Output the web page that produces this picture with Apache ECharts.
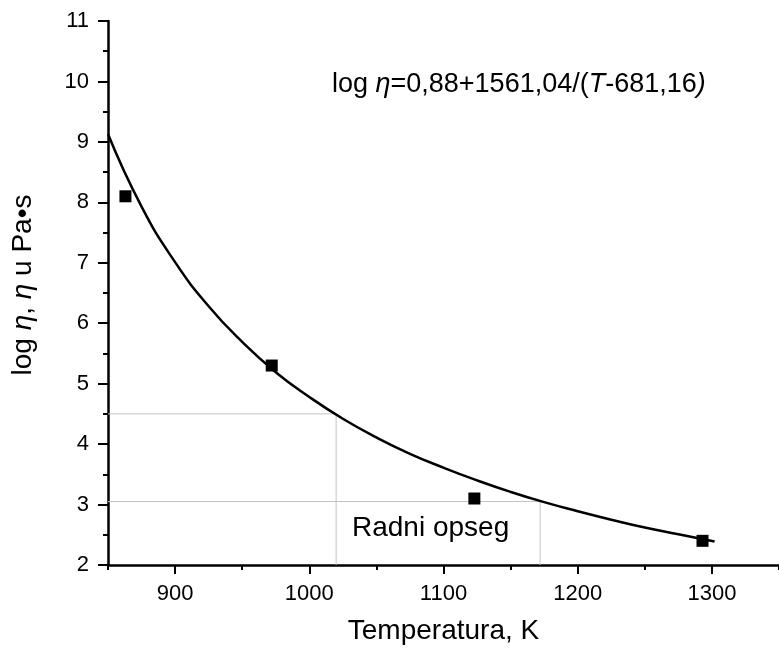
<!DOCTYPE html>
<html>
<head>
<meta charset="utf-8">
<script src="https://cdn.jsdelivr.net/npm/echarts@6/dist/echarts.min.js"></script>
<style>
  html, body { margin: 0; padding: 0; background: #fff; }
  #chart { width: 779px; height: 650px; }
</style>
</head>
<body>
<div id="chart"></div>
<script>
// izmjerene tocke (T u K, log eta)
const measuredT = [863, 972, 1123, 1293];
const measuredLog = [8.1, 5.3, 3.1, 2.4];

// kriva ocitana sa slike
const curveT = [850, 875, 900, 925, 950, 975, 1000, 1025, 1050, 1075, 1100, 1125, 1150, 1175, 1200, 1225, 1250, 1275, 1302];
const curveLog = [9.13, 7.93, 7.01, 6.28, 5.69, 5.19, 4.78, 4.42, 4.11, 3.84, 3.61, 3.40, 3.21, 3.04, 2.89, 2.75, 2.62, 2.51, 2.39];

// radni opseg (granice)
const rangeLow = [[850, 4.5], [1020, 4.5], [1020, 2]];
const rangeHigh = [[850, 3.05], [1172, 3.05], [1172, 2]];

const xMajor = [900, 1000, 1100, 1200, 1300];
const xMinor = [850, 950, 1050, 1150, 1250, 1350];

const font = 'Liberation Sans, Arial, sans-serif';
const chart = echarts.init(document.getElementById('chart'));

const zip = (xs, ys) => xs.map((x, i) => [x, ys[i]]);

chart.setOption({
  animation: false,
  grid: { left: 108, right: -2, top: 21, bottom: 84 },
  xAxis: [
    {
      type: 'value', min: 850, max: 1350,
      name: 'Temperatura, K', nameLocation: 'middle', nameGap: 52,
      nameTextStyle: { fontFamily: font, fontSize: 28, color: '#000' },
      axisLine: { show: true, onZero: false, lineStyle: { color: '#000', width: 2.5 } },
      axisTick: { show: true, customValues: xMajor, length: 9, lineStyle: { color: '#000', width: 2 } },
      axisLabel: {
        customValues: xMajor, margin: 18, fontFamily: font, fontSize: 22, color: '#000',
        formatter: v => String(v)
      },
      splitLine: { show: false }
    },
    {
      type: 'value', min: 850, max: 1350, position: 'bottom',
      axisLine: { show: false },
      axisTick: { show: true, customValues: xMinor, length: 5, lineStyle: { color: '#000', width: 2 } },
      axisLabel: { show: false },
      splitLine: { show: false }
    }
  ],
  yAxis: {
    type: 'value', min: 2, max: 11, interval: 1,
    name: '{n|log }{i|η}{n|, }{i|η}{n| u Pa•s}', nameLocation: 'middle', nameGap: 71,
    nameTextStyle: {
      padding: [0, 0, 0, 16],
      rich: {
        n: { fontFamily: font, fontSize: 28, color: '#000' },
        i: { fontFamily: font, fontSize: 28, color: '#000', fontStyle: 'italic' }
      }
    },
    axisLine: { show: true, onZero: false, lineStyle: { color: '#000', width: 2.5 } },
    axisTick: { show: true, length: 10, lineStyle: { color: '#000', width: 2 } },
    minorTick: { show: true, splitNumber: 2, length: 5, lineStyle: { color: '#000', width: 2 } },
    axisLabel: { margin: 19, fontFamily: font, fontSize: 22, color: '#000' },
    splitLine: { show: false }
  },
  graphic: [
    {
      type: 'text', left: 332, top: 71, z: 10,
      style: {
        text: '{n|log }{i|η}{n|=0,88+1561,04/(}{i|T}{n|-681,16}{i|)}',
        rich: {
          n: { fontFamily: font, fontSize: 27, fill: '#000' },
          i: { fontFamily: font, fontSize: 27, fill: '#000', fontStyle: 'italic' }
        }
      }
    },
    {
      type: 'text', left: 352, top: 514, z: 10,
      style: { text: 'Radni opseg', fontFamily: font, fontSize: 28, fill: '#000' }
    }
  ],
  series: [
    {
      type: 'line', data: rangeLow, symbol: 'none', silent: true,
      lineStyle: { color: '#c4c4c4', width: 1 }
    },
    {
      type: 'line', data: rangeHigh, symbol: 'none', silent: true,
      lineStyle: { color: '#c4c4c4', width: 1 }
    },
    {
      type: 'line', data: zip(curveT, curveLog), symbol: 'none', smooth: true,
      lineStyle: { color: '#000', width: 2.5 }
    },
    {
      type: 'scatter', data: zip(measuredT, measuredLog), symbol: 'rect', symbolSize: 12,
      itemStyle: { color: '#000', opacity: 1 }, z: 5
    }
  ]
});
</script>
</body>
</html>
